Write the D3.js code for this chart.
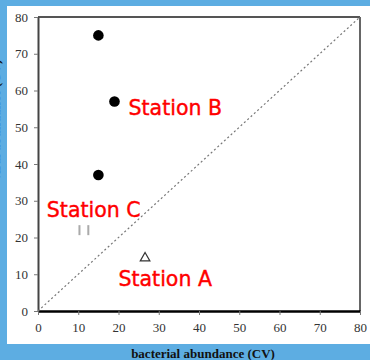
<!DOCTYPE html>
<html><head><meta charset="utf-8">
<script src="https://cdn.jsdelivr.net/npm/d3@7/dist/d3.min.js"></script>
<style>html,body{margin:0;padding:0;background:#5dade2;overflow:hidden}</style>
</head><body>
<svg id="c" width="370" height="360"></svg>
<script>
const xTicks = [0,10,20,30,40,50,60,70,80];
const yTicks = [0,10,20,30,40,50,60,70,80];
const filledX = [15, 19, 15];
const filledY = [75, 57, 37];
const triX = [26.6];
const triY = [14.4];
const barX = [10.3, 12.5];
const barY = [22, 22];
const stationNames = ["Station B", "Station C", "Station A"];
const stationX = [22.5, 2.2, 20];
const stationY = [53.3, 25.7, 6.8];
const xTitle = "bacterial abundance (CV)";
const yTitle = "viral abundance (CV)";

const svg = d3.select("#c");
svg.append("rect").attr("x",0).attr("y",0).attr("width",370).attr("height",360).attr("fill","#5dade2");
svg.append("rect").attr("x",7).attr("y",6).attr("width",363).attr("height",338).attr("fill","#fff");

const x = d3.scaleLinear().domain([0,80]).range([38,360]);
const y = d3.scaleLinear().domain([0,80]).range([311,17]);

// frame top & right
svg.append("line").attr("x1",x(0)).attr("x2",x(80)).attr("y1",y(80)).attr("y2",y(80)).attr("stroke","#555").attr("stroke-width",2);
svg.append("line").attr("x1",x(80)).attr("x2",x(80)).attr("y1",y(80)).attr("y2",y(0)).attr("stroke","#666").attr("stroke-width",2);

const xa = svg.append("g").attr("transform",`translate(0,${y(0)})`)
  .call(d3.axisBottom(x).tickValues(xTicks).tickSize(4).tickSizeOuter(0).tickPadding(8));
const ya = svg.append("g").attr("transform",`translate(${x(0)},0)`)
  .call(d3.axisLeft(y).tickValues(yTicks).tickSize(4).tickSizeOuter(0).tickPadding(6));
[xa, ya].forEach(g=>{
  g.selectAll("text").attr("font-family","'Liberation Serif', serif").attr("font-size",13).attr("fill","#333");
  g.selectAll(".tick line").attr("stroke","#777");
});
xa.select(".domain").attr("stroke","#000").attr("stroke-width",2.5);
ya.select(".domain").attr("stroke","#444").attr("stroke-width",2);

// diagonal 1:1
svg.append("line").attr("x1",x(0)).attr("y1",y(0)).attr("x2",x(80)).attr("y2",y(80))
  .attr("stroke","#777").attr("stroke-width",1.2).attr("stroke-dasharray","2,2.5");

// filled circles
svg.selectAll("circle.f").data(filledX).enter().append("circle")
  .attr("cx",(d)=>x(d)).attr("cy",(d,i)=>y(filledY[i])).attr("r",5.3).attr("fill","#000");

// open triangle
svg.selectAll("path.t").data(triX).enter().append("path")
  .attr("d",d3.symbol().type(d3.symbolTriangle).size(40))
  .attr("transform",(d,i)=>`translate(${x(d)},${y(triY[i])})`)
  .attr("fill","none").attr("stroke","#333").attr("stroke-width",1.2);

// gray bars
svg.selectAll("rect.b").data(barX).enter().append("rect")
  .attr("x",(d)=>x(d)-1).attr("y",(d,i)=>y(barY[i])-5).attr("width",2).attr("height",10).attr("fill","#aaa");

// station labels
svg.selectAll("text.s").data(stationNames).enter().append("text")
  .attr("x",(d,i)=>x(stationX[i])).attr("y",(d,i)=>y(stationY[i]))
  .attr("font-family","'DejaVu Sans', Verdana, sans-serif").attr("font-size",20.5)
  .attr("fill","#ff0000").attr("stroke","#ff0000").attr("stroke-width",0.4).text(d=>d);

// axis titles
svg.append("text").attr("x",203).attr("y",358).attr("text-anchor","middle")
  .attr("font-family","'Liberation Serif', serif").attr("font-weight","bold").attr("font-size",13)
  .attr("fill","#111").text(xTitle);
svg.append("text").attr("transform","translate(0,120) rotate(-90)").attr("text-anchor","middle")
  .attr("font-family","'Liberation Serif', serif").attr("font-weight","bold").attr("font-size",13)
  .attr("fill","#111").text(yTitle);
</script>
</body></html>
